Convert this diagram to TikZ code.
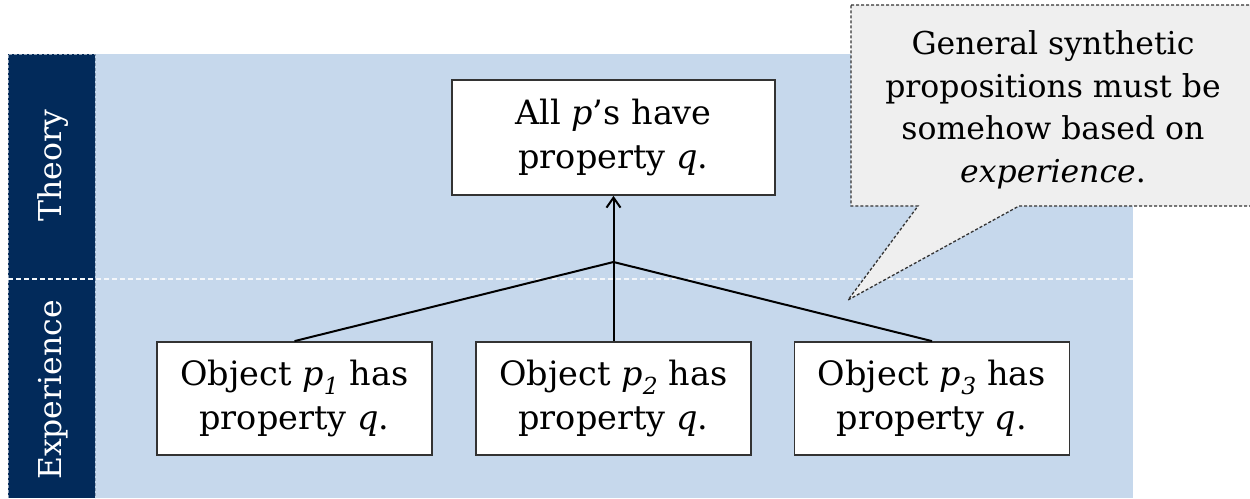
\documentclass[tikz,border=0pt]{standalone}
\usepackage{fontspec}
\setmainfont{DejaVu Serif}
\usetikzlibrary{arrows.meta}
\definecolor{navy}{HTML}{022A5A}
\definecolor{lightblue}{HTML}{C6D8EC}
\definecolor{calloutgray}{HTML}{EFEFEF}
\definecolor{boxborder}{HTML}{333333}
\tikzset{
  propbox/.style={draw=boxborder, line width=1.8pt, fill=white, minimum width=275pt, minimum height=113pt, inner sep=0pt, align=center, font=\fontsize{33.5}{44}\selectfont},
  sidelabel/.style={text=white, rotate=90, font=\fontsize{31.5}{36}\selectfont, inner sep=0pt},
  link/.style={line width=2pt, black},
}
\begin{document}
\begin{tikzpicture}[x=1pt, y=-1pt]
\useasboundingbox (0,0) rectangle (1250,498);
% background panels
\fill[lightblue] (95,54) rectangle (1133,498);
\fill[navy] (8,54) rectangle (95,498);
\draw[white!55!navy, dash pattern=on 3pt off 2pt, line width=1pt] (8,498) -- (8,54) -- (95,54) -- (95,498);
\draw[white!80!lightblue, dash pattern=on 5pt off 3pt, line width=1.2pt] (8,279) -- (1133,279);
% side labels
\node[sidelabel] (theory) at (53,166) {Theory};
\node[sidelabel] (exper) at (53,390) {Experience};
% boxes
\node[propbox, minimum width=323pt, minimum height=115pt] (top) at (613.5,137.5) {All \textit{p}’s have\\property \textit{q}.};
\node[propbox] (b1) at (294.5,398.5) {Object \textit{p\textsubscript{1}} has\\property \textit{q}.};
\node[propbox] (b2) at (613.5,398.5) {Object \textit{p\textsubscript{2}} has\\property \textit{q}.};
\node[propbox] (b3) at (932,398.5) {Object \textit{p\textsubscript{3}} has\\property \textit{q}.};
% connectors
\coordinate (j) at (613.5,262);
\draw[link] (b1.north) -- (j);
\draw[link] (b3.north) -- (j);
\draw[link] (b2.north) -- (j);
\draw[link, -{Straight Barb[length=10pt, width=14pt, line width=2pt]}] (j) -- (top.south);
% callout
\coordinate (tip) at (848,300);
\draw[boxborder, dash pattern=on 3pt off 2pt, line width=1.3pt, fill=calloutgray]
  (851,5) -- (1256,5) -- (1256,206) -- (1019,206) -- (tip) -- (918,206) -- (851,206) -- cycle;
\node[align=center, font=\fontsize{31.5}{42.5}\selectfont, inner sep=0pt] (note) at (1053,110)
  {General synthetic\\propositions must be\\somehow based on\\\textit{experience}.};
\end{tikzpicture}
\end{document}
